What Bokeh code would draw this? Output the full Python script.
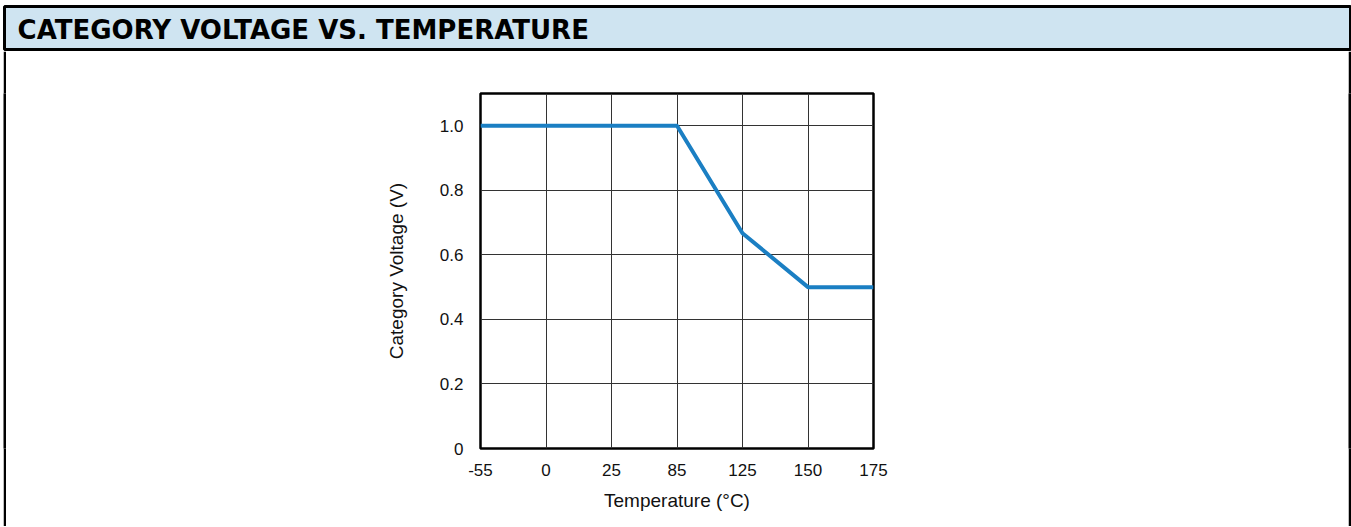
from bokeh.plotting import figure
from bokeh.models import FixedTicker, Label, Range1d, ColumnDataSource
from bokeh.layouts import column, row
from bokeh.embed import file_html
from bokeh.resources import INLINE

# ---- data ----
temperature_labels = ["-55", "0", "25", "85", "125", "150", "175"]
category_voltage = [1.0, 1.0, 1.0, 1.0, 0.667, 0.5, 0.5]
y_ticks = [0, 0.2, 0.4, 0.6, 0.8, 1.0]
y_tick_labels = ["0", "0.2", "0.4", "0.6", "0.8", "1.0"]
title_text = "CATEGORY VOLTAGE VS. TEMPERATURE"
x_title = "Temperature (°C)"
y_title = "Category Voltage (V)"

positions = list(range(len(temperature_labels)))
src = ColumnDataSource(dict(x=positions, y=category_voltage))

TOTAL_W = 1348
HEADER_H = 51
MAIN_H = 475
LBAR_W = 3
RBAR_W = 3
MAIN_W = TOTAL_W - LBAR_W - RBAR_W


def blank(fig):
    fig.xaxis.visible = False
    fig.yaxis.visible = False
    fig.xgrid.visible = False
    fig.ygrid.visible = False
    return fig


# ---- header band ----
hdr = figure(width=TOTAL_W, height=HEADER_H, output_backend="svg", toolbar_location=None,
             x_range=Range1d(0, 1), y_range=Range1d(0, 1),
             min_border_left=1, min_border_right=1, min_border_top=6, min_border_bottom=2)
blank(hdr)
hdr.background_fill_color = "#cfe4f1"
hdr.border_fill_color = "white"
hdr.outline_line_color = "black"
hdr.outline_line_width = 3
hdr.add_layout(Label(x=0.0097, y=0.46, text=title_text,
                     text_font="DejaVu Sans", text_font_size="26px", text_font_style="bold",
                     text_baseline="middle", text_align="left", text_color="black"))

# ---- side bars of the outer frame ----
bars = []
for w in (LBAR_W, RBAR_W):
    b = figure(width=w, height=MAIN_H, output_backend="svg", toolbar_location=None,
               x_range=Range1d(0, 1), y_range=Range1d(0, 1),
               min_border_left=0, min_border_right=0, min_border_top=0, min_border_bottom=0)
    blank(b)
    b.background_fill_color = "black"
    b.border_fill_color = "black"
    b.outline_line_color = None
    bars.append(b)
lbar, rbar = bars

# ---- main chart ----
p = figure(width=MAIN_W, height=MAIN_H, output_backend="svg", toolbar_location=None,
           x_range=Range1d(0, len(temperature_labels) - 1), y_range=Range1d(0, 1.1),
           min_border_left=474, min_border_right=475, min_border_top=42, min_border_bottom=78)

p.line("x", "y", source=src, line_color="#1b7fc3", line_width=4)

FONT = "Liberation Sans"
for ax in (p.xaxis[0], p.yaxis[0]):
    ax.axis_line_color = None
    ax.major_tick_line_color = None
    ax.minor_tick_line_color = None
    ax.major_tick_out = 0
    ax.major_tick_in = 0
    ax.major_label_text_font = FONT
    ax.major_label_text_font_size = "17px"
    ax.major_label_text_color = "#111111"
    ax.axis_label_text_font = FONT
    ax.axis_label_text_font_size = "19px"
    ax.axis_label_text_font_style = "normal"
    ax.axis_label_text_color = "#111111"

p.xaxis.ticker = FixedTicker(ticks=positions)
p.xaxis.major_label_overrides = {i: t for i, t in zip(positions, temperature_labels)}
p.xaxis.major_label_standoff = 15
p.xaxis.axis_label = x_title
p.xaxis.axis_label_standoff = 11

p.yaxis.ticker = FixedTicker(ticks=y_ticks)
p.yaxis.major_label_overrides = {v: t for v, t in zip(y_ticks, y_tick_labels)}
p.yaxis.major_label_standoff = 17
p.yaxis.axis_label = y_title
p.yaxis.axis_label_standoff = 30

for g in (p.xgrid[0], p.ygrid[0]):
    g.grid_line_color = "#333333"
    g.grid_line_width = 1
p.xgrid.ticker = FixedTicker(ticks=positions)
p.ygrid.ticker = FixedTicker(ticks=y_ticks)

p.outline_line_color = "black"
p.outline_line_width = 2.5
p.background_fill_color = "white"
p.border_fill_color = "white"

layout = column(hdr, row(lbar, p, rbar, spacing=0), spacing=0)
layout.margin = (0, 0, 0, 3)

open("out.html", "w").write(file_html(layout, INLINE))
